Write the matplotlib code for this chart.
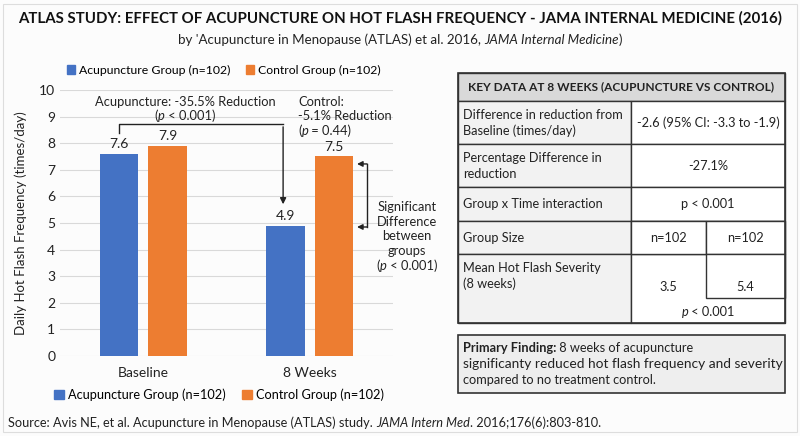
import matplotlib
matplotlib.use('Agg')
import matplotlib.pyplot as plt
import numpy as np
from matplotlib.patches import Rectangle

# data
categories = ['Baseline', '8 Weeks']
acupuncture = [7.6, 4.9]
control = [7.9, 7.5]
series_names = ['Acupuncture Group (n=102)', 'Control Group (n=102)']
yticks = list(range(0, 11))

BLUE = '#4472C4'
ORANGE = '#ED7D31'
TXT = '#222222'
BODY = ['Lato', 'DejaVu Sans']

plt.rcParams['font.family'] = BODY

W, H = 800, 436
fig = plt.figure(figsize=(W / 100, H / 100), dpi=100)
fig.patch.set_facecolor('#fcfcfc')
R = fig.canvas.get_renderer()


def fx(x):
    return x / W


def fy(y):
    return 1 - y / H


def rich(x, y, parts, ha='center', size=10, width=None, color=TXT):
    # text pieces with different styles side by side; optional fit to a pixel width
    items = [fig.text(0, fy(y), s, size=size, va='center', color=color, **kw) for s, kw in parts]
    widths = [t.get_window_extent(R).width for t in items]
    if width is not None:
        k = width / sum(widths)
        for t in items:
            t.set_fontsize(size * k)
        widths = [t.get_window_extent(R).width for t in items]
    total = sum(widths)
    start = x - total / 2 if ha == 'center' else x
    for t, w in zip(items, widths):
        t.set_x(fx(start))
        start += w


# outer frame
fig.add_artist(Rectangle((fx(3), fy(432)), fx(794), 428 / H, transform=fig.transFigure,
                         fill=False, edgecolor='#dddddd', lw=0.8))

# titles
rich(400, 18, [('ATLAS STUDY: EFFECT OF ACUPUNCTURE ON HOT FLASH FREQUENCY - JAMA INTERNAL MEDICINE (2016)',
                {'weight': 'bold'})], size=12, width=764, color='#111111')
rich(400, 40, [("by 'Acupuncture in Menopause (ATLAS) et al. 2016, ", {}),
               ('JAMA Internal Medicine', {'style': 'italic'}),
               (')', {})], size=10.5, width=444)

# bar chart
ax = fig.add_axes([fx(60), fy(356), fx(393 - 60), (356 - 90) / H])
x = np.arange(len(categories))
bw = 0.23
off = 0.145
b1 = ax.bar(x - off, acupuncture, bw, color=BLUE, zorder=3, label=series_names[0])
b2 = ax.bar(x + off, control, bw, color=ORANGE, zorder=3, label=series_names[1])
for bars in (b1, b2):
    for b in bars:
        ax.text(b.get_x() + b.get_width() / 2, b.get_height() + 0.15, f'{b.get_height():.1f}',
                ha='center', va='bottom', size=10, color=TXT)

ax.set_xlim(-0.5, 1.5)
ax.set_ylim(0, 10)
ax.set_yticks(yticks)
ax.set_xticks(x)
ax.set_xticklabels(categories, size=10)
ax.tick_params(axis='both', length=0, labelsize=10, colors=TXT)
ax.tick_params(axis='x', pad=8)
ax.grid(axis='y', color='#d9d9d9', lw=0.8, zorder=0)
for s in ax.spines.values():
    s.set_visible(False)
ax.set_facecolor('none')
ax.set_ylabel('Daily Hot Flash Frequency (times/day)', size=9.5, color=TXT, labelpad=9)

# reduction bracket for acupuncture
bx0 = x[0] - off
bx1 = x[1] - off - 0.015
ax.plot([bx0, bx0, bx1], [8.4, 8.72, 8.72], color=TXT, lw=1, zorder=4)
ax.annotate('', xy=(bx1, 5.6), xytext=(bx1, 8.72),
            arrowprops=dict(arrowstyle='-|>', color=TXT, lw=1, mutation_scale=9))
AS = 9.3
rich(185, 102, [('Acupuncture: -35.5% Reduction', {})], size=AS)
rich(185, 116, [('(', {}), ('p', {'style': 'italic'}), (' < 0.001)', {})], size=AS)

rich(298, 102, [('Control:', {})], ha='left', size=AS)
rich(298, 116, [('-5.1% Reduction', {})], ha='left', size=AS)
rich(298, 131, [('(', {}), ('p', {'style': 'italic'}), (' = 0.44)', {})], ha='left', size=AS)

# significant difference bracket
dx = 1.344
tip = 1.284
ytop, ybot = control[1] - 0.28, acupuncture[1] - 0.05
ax.plot([dx, dx], [ytop, ybot], color=TXT, lw=1, zorder=4, clip_on=False)
for yv in (ytop, ybot):
    ax.annotate('', xy=(tip, yv), xytext=(dx, yv), annotation_clip=False,
                arrowprops=dict(arrowstyle='-|>', color=TXT, lw=1, mutation_scale=8,
                                shrinkA=0, shrinkB=0))
for i, line in enumerate(['Significant', 'Difference', 'between', 'groups']):
    rich(407, 207 + i * 14.7, [(line, {})], size=AS)
rich(407, 266, [('(', {}), ('p', {'style': 'italic'}), (' < 0.001)', {})], size=AS)

# legends
handles = [Rectangle((0, 0), 1, 1, color=BLUE), Rectangle((0, 0), 1, 1, color=ORANGE)]
fig.legend(handles, series_names, loc='center', bbox_to_anchor=(fx(224), fy(70)), ncol=2,
           frameon=False, fontsize=8.8, handlelength=0.6, handleheight=0.7,
           handletextpad=0.35, columnspacing=1.3)
fig.legend(handles, series_names, loc='center', bbox_to_anchor=(fx(219), fy(395)), ncol=2,
           frameon=False, fontsize=9.2, handlelength=0.75, handleheight=0.75,
           handletextpad=0.3, columnspacing=1.3)

# key data table
TL, TR, TM, TM2 = 458, 785, 631, 706
rows = [73, 101, 144, 187, 221, 254, 323]


def box(x0, y0, x1, y1, fc, lw=1.0, ec='#333333'):
    fig.add_artist(Rectangle((fx(x0), fy(y1)), fx(x1 - x0), (y1 - y0) / H,
                             transform=fig.transFigure, facecolor=fc, edgecolor=ec, lw=lw))


box(TL, rows[0], TR, rows[1], '#d9d9d9')
for i in range(1, 6):
    box(TL, rows[i], TM, rows[i + 1], '#f2f2f2')
    box(TM, rows[i], TR, rows[i + 1], 'white')
box(TM, rows[4], TM2, rows[5], 'white')
box(TM2, rows[4], TR, rows[5], 'white')
box(TM2, rows[5], TR, 298, 'white')
box(TL, rows[0], TR, rows[-1], 'none', lw=1.2)

TS = 9.2
rich((TL + TR) / 2, 87, [('KEY DATA AT 8 WEEKS (ACUPUNCTURE VS CONTROL)', {'weight': 'bold'})],
     size=9, width=306)
left_labels = [['Difference in reduction from', 'Baseline (times/day)'],
               ['Percentage Difference in', 'reduction'],
               ['Group x Time interaction'],
               ['Group Size']]
for i, lines in enumerate(left_labels):
    yc = (rows[i + 1] + rows[i + 2]) / 2
    for j, s in enumerate(lines):
        rich(463, yc + (j - (len(lines) - 1) / 2) * 16, [(s, {})], ha='left', size=TS)
rich(463, 268, [('Mean Hot Flash Severity', {})], ha='left', size=TS)
rich(463, 284, [('(8 weeks)', {})], ha='left', size=TS)

rich((TM + TR) / 2, 123, [('-2.6 (95% CI: -3.3 to -1.9)', {})], size=TS)
rich((TM + TR) / 2, 166, [('-27.1%', {})], size=TS)
rich((TM + TR) / 2, 204, [('p < 0.001', {})], size=TS)
rich((TM + TM2) / 2, 238, [('n=102', {})], size=TS)
rich((TM2 + TR) / 2, 238, [('n=102', {})], size=TS)
rich((TM + TM2) / 2, 287, [('3.5', {})], size=TS)
rich((TM2 + TR) / 2, 287, [('5.4', {})], size=TS)
rich((TM + TR) / 2, 312, [('p', {'style': 'italic'}), (' < 0.001', {})], size=TS)

# primary finding box
box(TL, 335, TR, 393, '#eeeeee', lw=1.2)
rich(463, 348, [('Primary Finding:', {'weight': 'bold'}), (' 8 weeks of acupuncture', {})],
     ha='left', size=TS)
rich(463, 364, [('significanty reduced hot flash frequency and severity', {})], ha='left', size=TS,
     width=317)
rich(463, 380, [('compared to no treatment control.', {})], ha='left', size=TS)

# source
rich(8, 423, [('Source: Avis NE, et al. Acupuncture in Menopause (ATLAS) study. ', {}),
              ('JAMA Intern Med', {'style': 'italic'}),
              ('. 2016;176(6):803-810.', {})], ha='left', size=10.5, width=599)

fig.savefig('out.png', dpi=100, facecolor=fig.get_facecolor())
